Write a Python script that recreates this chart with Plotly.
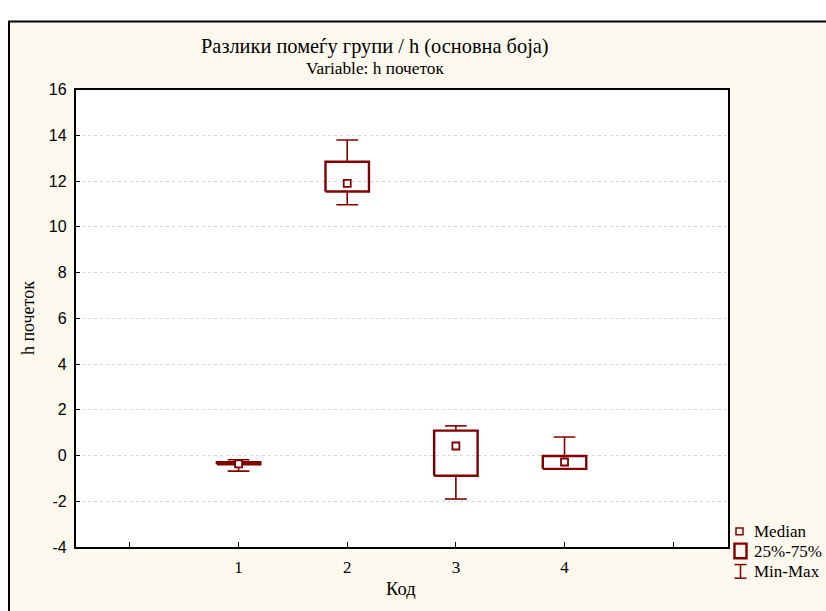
import plotly.graph_objects as go

# Summary statistics of "h почеток" per group (Код)
codes = [1, 2, 3, 4]
minimum = [-0.68, 10.97, -1.90, -0.58]
q25 = [-0.38, 11.55, -0.88, -0.58]
median = [-0.36, 11.90, 0.42, -0.28]
q75 = [-0.29, 12.85, 1.09, -0.02]
maximum = [-0.18, 13.80, 1.30, 0.81]

x_tick_vals = [0, 1, 2, 3, 4, 5]
x_tick_text = ["", "1", "2", "3", "4", ""]
y_tick_vals = [-4, -2, 0, 2, 4, 6, 8, 10, 12, 14, 16]
y_tick_text = [str(v) for v in y_tick_vals]

title_text = "Разлики помеѓу групи / h (основна боја)"
subtitle_text = "Variable: h почеток"
x_title = "Код"
y_title = "h почеток"
legend_labels = ["Median", "25%-75%", "Min-Max"]

W, H = 826, 611
L, R, T, B = 75.6, 727.5, 84.0, 554.5

MAROON = "#800000"
CREAM = "#FEF9EE"
SERIF = "Liberation Serif, Times New Roman, serif"
SANS = "Liberation Sans, Arial, sans-serif"

BOX_HALF = 0.2
CAP_HALF = 0.1


def px(x):
    return x / W


def py(y):
    return 1 - y / H


# Box outlines (25%-75%)
box_x, box_y = [], []
for c, lo, hi in zip(codes, q25, q75):
    box_x += [c - BOX_HALF, c + BOX_HALF, c + BOX_HALF, c - BOX_HALF, c - BOX_HALF, None]
    box_y += [lo, lo, hi, hi, lo, None]

# Whiskers with caps (Min-Max)
wh_x, wh_y = [], []
for c, mn, lo, hi, mx in zip(codes, minimum, q25, q75, maximum):
    wh_x += [c, c, None, c, c, None]
    wh_y += [hi, mx, None, lo, mn, None]
    wh_x += [c - CAP_HALF, c + CAP_HALF, None, c - CAP_HALF, c + CAP_HALF, None]
    wh_y += [mx, mx, None, mn, mn, None]

fig = go.Figure()
fig.add_trace(go.Scatter(x=wh_x, y=wh_y, mode="lines",
                         line=dict(color=MAROON, width=1.6),
                         hoverinfo="skip", showlegend=False))
fig.add_trace(go.Scatter(x=box_x, y=box_y, mode="lines",
                         line=dict(color=MAROON, width=2.4),
                         hoverinfo="skip", showlegend=False))
fig.add_trace(go.Scatter(x=codes, y=median, mode="markers",
                         marker=dict(symbol="square", size=7, color="white",
                                     line=dict(color=MAROON, width=1.8)),
                         showlegend=False))

shapes = [
    # outer frame of the graph window
    dict(type="rect", xref="paper", yref="paper", layer="below",
         x0=px(9), x1=1.05, y0=-0.05, y1=py(14),
         fillcolor=CREAM, line=dict(color="black", width=2)),
    # plotting area
    dict(type="rect", xref="x domain", yref="y domain", layer="below",
         x0=0, x1=1, y0=0, y1=1, fillcolor="white", line=dict(width=0)),
    # legend glyphs
    dict(type="rect", xref="paper", yref="paper",
         x0=px(736), x1=px(743), y0=py(541.8), y1=py(534.8),
         line=dict(color=MAROON, width=1.5)),
    dict(type="rect", xref="paper", yref="paper",
         x0=px(734.5), x1=px(746.5), y0=py(566), y1=py(551),
         line=dict(color=MAROON, width=2.4)),
    dict(type="line", xref="paper", yref="paper",
         x0=px(740.5), x1=px(740.5), y0=py(586.5), y1=py(572.5),
         line=dict(color=MAROON, width=1.5)),
    dict(type="line", xref="paper", yref="paper",
         x0=px(734.5), x1=px(746.5), y0=py(572.5), y1=py(572.5),
         line=dict(color=MAROON, width=1.5)),
    dict(type="line", xref="paper", yref="paper",
         x0=px(734.5), x1=px(746.5), y0=py(586.5), y1=py(586.5),
         line=dict(color=MAROON, width=1.5)),
]

annotations = [
    dict(text=title_text, x=px(375), y=py(40), xref="paper", yref="paper",
         xanchor="center", yanchor="middle", showarrow=False,
         font=dict(family=SERIF, size=20.4, color="black")),
    dict(text=subtitle_text, x=px(375), y=py(62), xref="paper", yref="paper",
         xanchor="center", yanchor="middle", showarrow=False,
         font=dict(family=SERIF, size=17.3, color="black")),
    dict(text=x_title, x=px(401), y=py(598), xref="paper", yref="paper",
         xanchor="center", yanchor="middle", showarrow=False,
         font=dict(family=SERIF, size=18.5, color="black")),
    dict(text=y_title, x=px(28), y=py(319), xref="paper", yref="paper",
         xanchor="center", yanchor="middle", showarrow=False, textangle=-90,
         font=dict(family=SERIF, size=18, color="black")),
]
for label, yc in zip(legend_labels, [538.3, 559, 580]):
    annotations.append(dict(text=label, x=px(752), y=py(yc), xref="paper", yref="paper",
                            xanchor="left", yanchor="middle", showarrow=False,
                            font=dict(family=SERIF, size=17, color="black")))

fig.update_layout(
    width=W, height=H,
    margin=dict(l=0, r=0, t=0, b=0),
    paper_bgcolor="white",
    plot_bgcolor="white",
    showlegend=False,
    shapes=shapes,
    annotations=annotations,
    xaxis=dict(domain=[px(L), px(R)], range=[-0.5, 5.5],
               tickmode="array", tickvals=x_tick_vals, ticktext=x_tick_text,
               ticks="inside", ticklen=5, tickcolor="black", tickwidth=1,
               ticklabelstandoff=4,
               showline=True, linecolor="black", linewidth=1.5, mirror=True,
               showgrid=False, zeroline=False,
               tickfont=dict(family=SERIF, size=17, color="black")),
    yaxis=dict(domain=[py(B), py(T)], range=[-4, 16],
               tickmode="array", tickvals=y_tick_vals, ticktext=y_tick_text,
               ticks="inside", ticklen=5, tickcolor="black", tickwidth=1,
               ticklabelstandoff=4,
               showline=True, linecolor="black", linewidth=1.5, mirror=True,
               showgrid=True, gridcolor="#d6d6d6", griddash="dot", gridwidth=1,
               zeroline=False,
               tickfont=dict(family=SANS, size=16, color="black")),
)

fig.write_html("out.html")
